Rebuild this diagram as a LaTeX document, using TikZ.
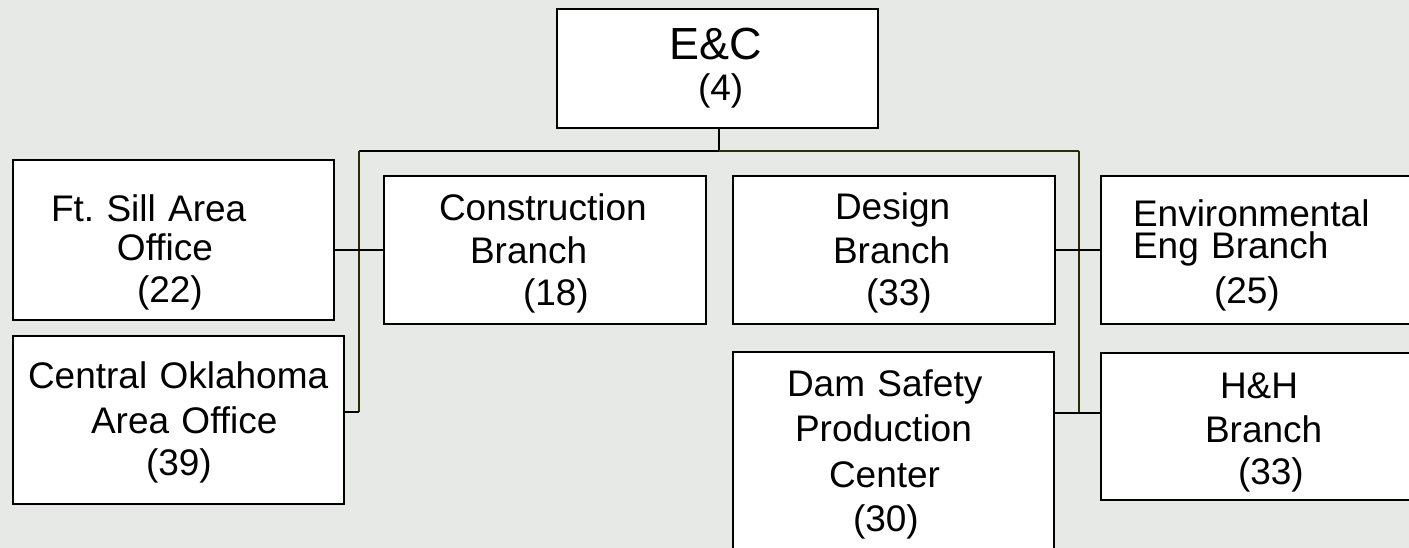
\documentclass[tikz,border=0pt]{standalone}
\usepackage{fontspec}
\setmainfont{Liberation Sans}
\definecolor{chartbg}{RGB}{230,233,230}
\definecolor{busline}{RGB}{45,45,0}

\begin{document}
\begin{tikzpicture}[x=1pt, y=-1pt,
		unit/.style n args={3}{draw, line width=2pt, fill=white, anchor=north west, inner sep=0pt,
			align=left, font=\fontsize{37}{42}\selectfont,
			text width=#1pt, text height=#2pt, text depth=#3pt},
		link/.style={line width=1.8pt}]
		\useasboundingbox (0, 0) rectangle (1409, 548);
		\fill[chartbg] (0, 0) rectangle (1409, 548);
		
		\node[unit={321}{51}{68}] (ec) at (556, 8)
			{\hspace*{112pt}{\fontsize{45}{42}\selectfont E\&C}\\[-1pt]\hspace*{141pt}(4)};
		\node[unit={321}{62}{98}] (fs) at (12, 159)
			{\hspace*{38pt}Ft.\ Sill Area\\[-3pt]\hspace*{104pt}Office\\\hspace*{124pt}(22)};
		\node[unit={331}{52}{116}] (ok) at (12, 335)
			{\hspace*{15pt}Central Oklahoma\\[3pt]\hspace*{78pt}Area Office\\[1pt]\hspace*{133pt}(39)};
		\node[unit={322}{45}{103}] (con) at (383, 175)
			{\hspace*{55pt}Construction\\[1pt]\hspace*{86pt}Branch\\\hspace*{139pt}(18)};
		\node[unit={322}{44}{104}] (des) at (732, 175)
			{\hspace*{102pt}Design\\[2pt]\hspace*{100pt}Branch\\\hspace*{133pt}(33)};
		\node[unit={321}{44}{157}] (dam) at (732, 351)
			{\hspace*{54pt}Dam Safety\\[3pt]\hspace*{62pt}Production\\[4pt]\hspace*{96pt}Center\\[2pt]\hspace*{120pt}(30)};
		\node[unit={312}{51}{97}] (env) at (1100, 175)
			{\hspace*{32pt}Environmental\\[-10pt]\hspace*{32pt}Eng Branch\\[3pt]\hspace*{113pt}(25)};
		\node[unit={312}{45}{102}] (hh) at (1100, 352)
			{\hspace*{119pt}H\&H\\[2pt]\hspace*{104pt}Branch\\\hspace*{137pt}(33)};
		
		\coordinate (busL) at (359, 151);
		\coordinate (busR) at (1079, 151);
		\coordinate (ecfoot) at (719, 151);
		\coordinate (busLend) at (359, 412);
		\coordinate (busRend) at (1079, 413);
		
		\draw[link] (ec.south -| ecfoot) -- (ecfoot);
		\draw[link] (busL) -- (ecfoot);
		\draw[link, busline] (ecfoot) -- (busR);
		\draw[link, busline] (busL) -- (busLend);
		\draw[link] (busLend) -- (busLend -| ok.east);
		\draw[link] (con.west) -- (con.west -| fs.east);
		\draw[link, busline] (busR) -- (busRend);
		\draw[link] (dam.east |- busRend) -- (busRend -| hh.west);
		\draw[link] (des.east) -- (env.west);
\end{tikzpicture}
\end{document}
